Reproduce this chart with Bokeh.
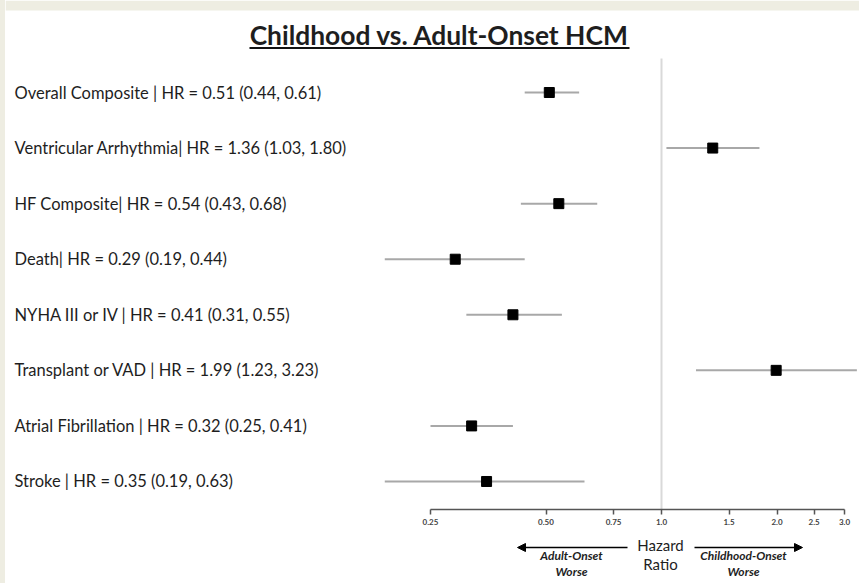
import numpy as np
from bokeh.plotting import figure
from bokeh.layouts import column, row
from bokeh.models import (ColumnDataSource, FixedTicker, Label, Arrow, NormalHead, Range1d,
                          BoxAnnotation, Div)
from bokeh.core.properties import value
from bokeh.embed import file_html
from bokeh.resources import INLINE

# ---------------- data ----------------
names = ["Overall Composite |", "Ventricular Arrhythmia|", "HF Composite|", "Death|",
         "NYHA III or IV |", "Transplant or VAD |", "Atrial Fibrillation |", "Stroke |"]
hr = [0.51, 1.36, 0.54, 0.29, 0.41, 1.99, 0.32, 0.35]
ci_lo = [0.44, 1.03, 0.43, 0.19, 0.31, 1.23, 0.25, 0.19]
ci_hi = [0.61, 1.80, 0.68, 0.44, 0.55, 3.23, 0.41, 0.63]
tick_values = [0.25, 0.5, 0.75, 1.0, 1.5, 2.0, 2.5, 3.0]
tick_labels = ["0.25", "0.50", "0.75", "1.0", "1.5", "2.0", "2.5", "3.0"]
title_text = "Childhood vs. Adult-Onset HCM"

# ---------------- layout helpers (page pixel -> data) ----------------
W, H = 859, 583
STRIP = 5               # beige strip on the left
PW = W - STRIP          # width of the chart figures
AXIS_PX = 509           # page y of the x axis line
TOP_H = 534             # height of the upper figure (frame + axis)
ROW_PX = 55.57          # vertical distance between rows
TOP_ROW_PX = 92         # page y of first row
PX_PER_DOUBLING = 115.5
ONE_PX = 661            # page x of HR = 1.0
BEIGE = "#eeede2"
TXT = "#1e1e1e"
n = len(names)

def px2x(px):
    return 2 ** ((px - ONE_PX) / PX_PER_DOUBLING)

def py2y(py):
    return n + (TOP_ROW_PX - py) / ROW_PX

x_start, x_end = px2x(STRIP), px2x(W)
y_start, y_end = py2y(AXIS_PX), py2y(0)

rows = list(range(n, 0, -1))
labels = [f"{nm} HR = {h:.2f} ({l:.2f}, {u:.2f})" for nm, h, l, u in zip(names, hr, ci_lo, ci_hi)]
src = ColumnDataSource(dict(y=rows, hr=hr, lo=ci_lo, hi=ci_hi, label=labels))

p = figure(width=PW, height=TOP_H, x_axis_type="log",
           x_range=Range1d(x_start, x_end), y_range=Range1d(y_start, y_end),
           output_backend="svg", toolbar_location=None, y_axis_location=None,
           min_border_left=0, min_border_right=0, min_border_top=0,
           min_border_bottom=TOP_H - AXIS_PX)
p.xgrid.visible = False
p.ygrid.visible = False
p.outline_line_color = None
p.background_fill_color = "white"
p.border_fill_color = "white"

# beige top band (page decoration)
p.add_layout(BoxAnnotation(bottom=py2y(10), fill_color=BEIGE, fill_alpha=1, line_color=None, level="underlay"))

# x axis
ax = p.xaxis[0]
ax.ticker = FixedTicker(ticks=tick_values)
ax.major_label_overrides = {v: t for v, t in zip(tick_values, tick_labels)}
ax.bounds = (tick_values[0], tick_values[-1])
ax.minor_tick_line_color = None
ax.major_tick_in = 0
ax.major_tick_out = 5
ax.axis_line_color = "#555555"
ax.axis_line_width = 1.5
ax.major_tick_line_color = "#555555"
ax.major_tick_line_width = 1.5
ax.major_label_text_font = "Lato"
ax.major_label_text_font_size = "8px"
ax.major_label_text_font_style = "bold"
ax.major_label_text_color = "#444444"
ax.major_label_standoff = 4

# reference line at HR = 1
p.segment(x0=[1.0], x1=[1.0], y0=[py2y(58)], y1=[y_start], line_color="#d9d9d9", line_width=2)

# confidence intervals and point estimates
p.segment(x0="lo", x1="hi", y0="y", y1="y", source=src, line_color="#a8a8a8", line_width=2)
p.scatter(x="hr", y="y", source=src, marker="square", size=10, fill_color="black", line_color="black")

# row labels
p.text(x=x_start, y="y", text="label", source=src, x_offset=14 - STRIP,
       text_font=value("Lato"), text_font_size="16.5px", text_baseline="middle",
       text_align="left", text_color=TXT)

# title with underline
p.text(x=[px2x(439)], y=[py2y(34.5)], text=[title_text],
       text_font=value("Lato"), text_font_size="26.4px", text_font_style="bold",
       text_color=TXT, text_align="center", text_baseline="middle")
p.segment(x0=[px2x(249)], x1=[px2x(629)], y0=[py2y(47.5)], y1=[py2y(47.5)],
          line_color="#111111", line_width=2)

# ---------------- lower strip: axis caption ----------------
q = figure(width=PW, height=H - TOP_H, x_range=Range1d(STRIP, W), y_range=Range1d(H, TOP_H),
           output_backend="svg", toolbar_location=None,
           x_axis_location=None, y_axis_location=None,
           min_border_left=0, min_border_right=0, min_border_top=0, min_border_bottom=0)
q.xgrid.visible = False
q.ygrid.visible = False
q.outline_line_color = None
q.background_fill_color = "white"
q.border_fill_color = "white"

def add_label(px, py, txt, size, style):
    q.add_layout(Label(x=px, y=py, text=txt, text_font="Lato",
                       text_font_size=size, text_font_style=style, text_color=TXT,
                       text_align="center", text_baseline="middle"))

add_label(660, 544, "Hazard", "15px", "normal")
add_label(660, 563, "Ratio", "15px", "normal")
add_label(571, 555, "Adult-Onset", "12px", "bold italic")
add_label(571, 571, "Worse", "12px", "bold italic")
add_label(743, 555, "Childhood-Onset", "12px", "bold italic")
add_label(743, 571, "Worse", "12px", "bold italic")

for xs_, xe_ in [(627, 517), (694, 802)]:
    q.add_layout(Arrow(x_start=xs_, x_end=xe_, y_start=547, y_end=547,
                       line_color="black", line_width=1.5,
                       end=NormalHead(size=8, fill_color="black", line_color="black")))

strip = Div(width=STRIP, height=H, margin=0, styles={"background-color": BEIGE})
layout = row(strip, column(p, q, spacing=0), spacing=0)
open("out.html", "w").write(file_html(layout, INLINE))
